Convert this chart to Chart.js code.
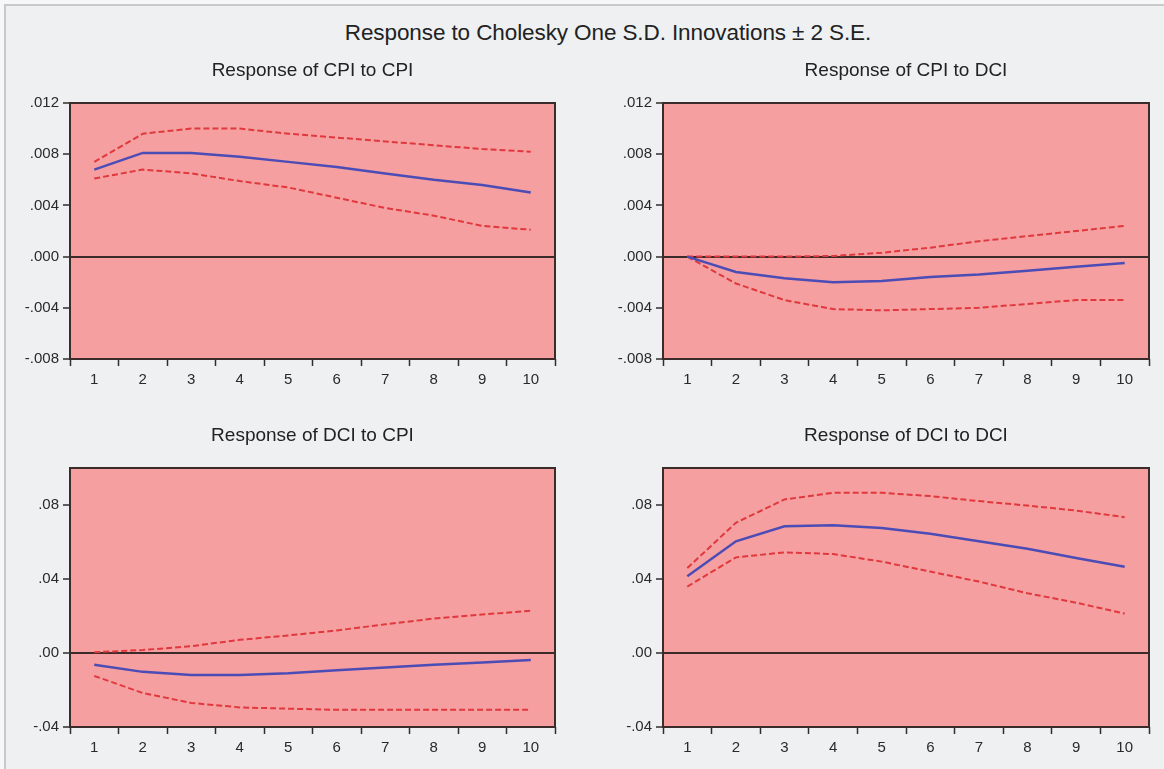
<!DOCTYPE html>
<html>
<head>
<meta charset="utf-8">
<script src="https://cdn.jsdelivr.net/npm/chart.js@4.4.0/dist/chart.umd.min.js"></script>
<style>
  html, body { margin: 0; padding: 0; }
  body { width: 1164px; height: 769px; background: #f6f7f8; position: relative; overflow: hidden; }
  #frame { position: absolute; left: 4px; top: 4px; width: 1170px; height: 780px;
           border-top: 2px solid #c9c9c9; border-left: 2px solid #c9c9c9; background: #eef0f2; }
  #mainTitle { position: absolute; left: 608px; top: 20px; transform: translateX(-50%);
               font-family: 'Liberation Sans', Arial, sans-serif; font-size: 22.5px; line-height: 26px;
               color: #222; white-space: nowrap; letter-spacing: -0.1px; }
  canvas { position: absolute; }
</style>
</head>
<body>
<div id="frame"></div>
<div id="mainTitle">Response to Cholesky One S.D. Innovations ± 2 S.E.</div>
<canvas id="c1" width="582" height="350" style="left:0px;top:49px"></canvas>
<canvas id="c2" width="582" height="350" style="left:582px;top:49px"></canvas>
<canvas id="c3" width="582" height="353" style="left:0px;top:414px"></canvas>
<canvas id="c4" width="582" height="353" style="left:582px;top:414px"></canvas>
<script>
// ---- data ----
const periods = ['1', '2', '3', '4', '5', '6', '7', '8', '9', '10'];

const titleCpiCpi = 'Response of CPI to CPI';
const cpiToCpi      = [0.0068, 0.0081, 0.0081, 0.0078, 0.0074, 0.0070, 0.0065, 0.0060, 0.0056, 0.0050];
const cpiToCpiUpper = [0.0074, 0.0096, 0.0100, 0.0100, 0.0096, 0.0093, 0.0090, 0.0087, 0.0084, 0.0082];
const cpiToCpiLower = [0.0061, 0.0068, 0.0065, 0.0059, 0.0054, 0.0046, 0.0038, 0.0032, 0.0024, 0.0021];

const titleCpiDci = 'Response of CPI to DCI';
const cpiToDci      = [0.0000, -0.0012, -0.0017, -0.0020, -0.0019, -0.0016, -0.0014, -0.0011, -0.0008, -0.0005];
const cpiToDciUpper = [0.0000, 0.0000, 0.0000, 0.00005, 0.0003, 0.0007, 0.0012, 0.0016, 0.0020, 0.0024];
const cpiToDciLower = [0.0000, -0.0021, -0.0034, -0.0041, -0.0042, -0.0041, -0.0040, -0.0037, -0.0034, -0.0034];

const titleDciCpi = 'Response of DCI to CPI';
const dciToCpi      = [-0.0064, -0.0102, -0.0119, -0.0119, -0.0110, -0.0093, -0.0079, -0.0064, -0.0051, -0.0038];
const dciToCpiUpper = [0.0004, 0.0016, 0.0037, 0.0071, 0.0095, 0.0122, 0.0155, 0.0186, 0.0208, 0.0228];
const dciToCpiLower = [-0.0124, -0.0216, -0.0270, -0.0294, -0.0301, -0.0307, -0.0307, -0.0307, -0.0307, -0.0307];

const titleDciDci = 'Response of DCI to DCI';
const dciToDci      = [0.0415, 0.0604, 0.0685, 0.0690, 0.0676, 0.0644, 0.0604, 0.0563, 0.0514, 0.0466];
const dciToDciUpper = [0.0459, 0.0704, 0.0830, 0.0866, 0.0866, 0.0848, 0.0821, 0.0797, 0.0770, 0.0734];
const dciToDciLower = [0.0359, 0.0517, 0.0544, 0.0535, 0.0494, 0.0440, 0.0386, 0.0323, 0.0272, 0.0213];

// y-axis tick values
const yTicksCpi = [-0.008, -0.004, 0.000, 0.004, 0.008, 0.012];
const yTicksDci = [-0.04, 0.00, 0.04, 0.08];
const yRangeCpi = [-0.008, 0.012];
const yRangeDci = [-0.04, 0.10];

// ---- styling ----
const FONT = "'Liberation Sans', Arial, sans-serif";
const PINK = '#f59fa0';
const FRAME = '#3b2b2b';
const BLUE = '#4b4cb6';
const RED = '#e0383c';

const plotBg = {
  id: 'plotBg',
  beforeDraw(chart) {
    const a = chart.chartArea, c = chart.ctx;
    c.save(); c.fillStyle = PINK;
    c.fillRect(a.left, a.top, a.right - a.left, a.bottom - a.top);
    c.restore();
  },
  afterDraw(chart) {
    const a = chart.chartArea, c = chart.ctx;
    c.save(); c.strokeStyle = FRAME; c.lineWidth = 2;
    c.strokeRect(a.left, a.top, a.right - a.left, a.bottom - a.top);
    c.restore();
  }
};

function fmt(v, d) {
  let s = Math.abs(v) < 1e-12 ? (0).toFixed(d) : v.toFixed(d);
  return s.replace(/^(-?)0\./, '$1.');
}

function makeChart(id, title, resp, upper, lower, yTicks, yRange, decimals, yAxisW, padR) {
  new Chart(document.getElementById(id), {
    type: 'line',
    data: {
      labels: periods,
      datasets: [
        { data: resp, borderColor: BLUE, borderWidth: 2.5, pointRadius: 0, tension: 0, fill: false },
        { data: upper, borderColor: RED, borderWidth: 2, borderDash: [6, 3], pointRadius: 0, tension: 0, fill: false },
        { data: lower, borderColor: RED, borderWidth: 2, borderDash: [6, 3], pointRadius: 0, tension: 0, fill: false }
      ]
    },
    options: {
      responsive: false,
      animation: false,
      layout: { padding: { left: 0, right: padR, top: 0, bottom: 0 } },
      plugins: {
        legend: { display: false },
        tooltip: { enabled: false },
        title: {
          display: true, text: title, fullSize: false, color: '#222',
          font: { family: FONT, size: 19, weight: 'normal', lineHeight: '24px' },
          padding: { top: 10, bottom: 20 }
        }
      },
      scales: {
        x: {
          type: 'category',
          offset: true,
          afterFit(s) { s.height = 40; },
          grid: { offset: true, drawOnChartArea: false, drawTicks: true, tickLength: 7,
                  tickColor: '#2e2e2e', tickWidth: 1.5, color: 'rgba(0,0,0,0)' },
          border: { display: false },
          ticks: { color: '#2a2a2a', padding: 5, maxRotation: 0, autoSkip: false,
                   font: { family: FONT, size: 15 } }
        },
        y: {
          min: yRange[0], max: yRange[1],
          afterFit(s) { s.width = yAxisW; },
          afterBuildTicks(s) { s.ticks = yTicks.map(v => ({ value: v })); },
          grid: {
            drawTicks: true, tickLength: 7, tickColor: '#2e2e2e', tickWidth: 1.5,
            lineWidth: 2,
            color: (c) => (c.tick && Math.abs(c.tick.value) < 1e-12) ? FRAME : 'rgba(0,0,0,0)'
          },
          border: { display: false },
          ticks: { color: '#2a2a2a', padding: 4, font: { family: FONT, size: 15 },
                   callback: (v) => fmt(v, decimals) }
        }
      }
    },
    plugins: [plotBg]
  });
}

makeChart('c1', titleCpiCpi, cpiToCpi, cpiToCpiUpper, cpiToCpiLower, yTicksCpi, yRangeCpi, 3, 70, 27);
makeChart('c2', titleCpiDci, cpiToDci, cpiToDciUpper, cpiToDciLower, yTicksCpi, yRangeCpi, 3, 81, 15);
makeChart('c3', titleDciCpi, dciToCpi, dciToCpiUpper, dciToCpiLower, yTicksDci, yRangeDci, 2, 70, 27);
makeChart('c4', titleDciDci, dciToDci, dciToDciUpper, dciToDciLower, yTicksDci, yRangeDci, 2, 81, 15);
</script>
</body>
</html>
